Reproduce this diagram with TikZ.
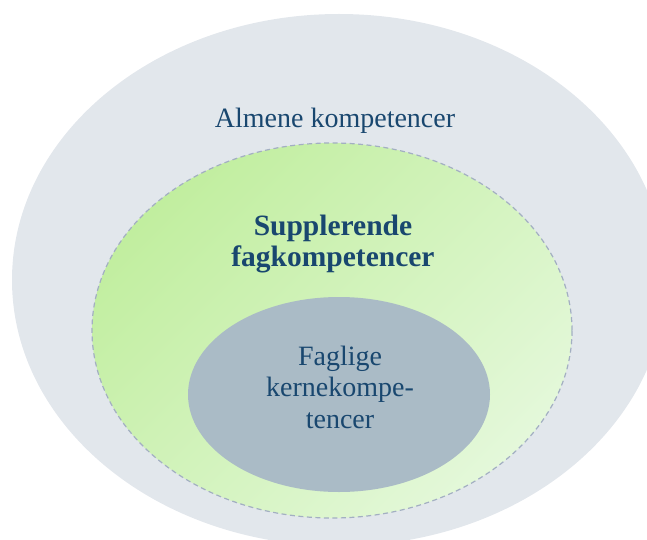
\documentclass[tikz,border=0pt]{standalone}
\usepackage{fontspec}
\setmainfont{Liberation Serif}
\usetikzlibrary{shapes.geometric}
\definecolor{outerfill}{HTML}{E2E7EC}
\definecolor{greenA}{HTML}{C1EE9F}
\definecolor{greenB}{HTML}{E4F8DA}
\definecolor{innerfill}{HTML}{AABBC6}
\definecolor{dashcol}{HTML}{A3AFC2}
\definecolor{txt}{HTML}{19476F}
\tikzset{
  blob/.style={ellipse, inner sep=0pt, outer sep=0pt},
  lbl/.style={text=txt, anchor=base, inner sep=0pt, font=\fontsize{28}{32}\selectfont},
  blbl/.style={lbl, font=\fontsize{29.5}{32}\bfseries\selectfont},
}
\begin{document}
\begin{tikzpicture}[x=1pt, y=-1pt]
\useasboundingbox (0,0) rectangle (647,540);
\clip (0,0) rectangle (647,540);
\node[blob, fill=outerfill, minimum width=654pt, minimum height=532pt] (outer) at (339,280) {};
\node[blob, draw=dashcol, line width=1.2pt, dash pattern=on 5pt off 3.5pt,
      top color=greenA, bottom color=greenB, shading angle=45,
      minimum width=480pt, minimum height=375pt] (middle) at (332,330.5) {};
\node[blob, fill=innerfill, minimum width=302pt, minimum height=195pt] (inner) at (339,394.5) {};
\node[lbl] (t1) at (335,128) {Almene kompetencer};
\node[blbl] (t2) at (333,235) {Supplerende};
\node[blbl] (t3) at (333,266) {fagkompetencer};
\node[lbl] (t4) at (340,365) {Faglige};
\node[lbl] (t5) at (340,396) {kernekompe-};
\node[lbl] (t6) at (340,428) {tencer};
\end{tikzpicture}
\end{document}
